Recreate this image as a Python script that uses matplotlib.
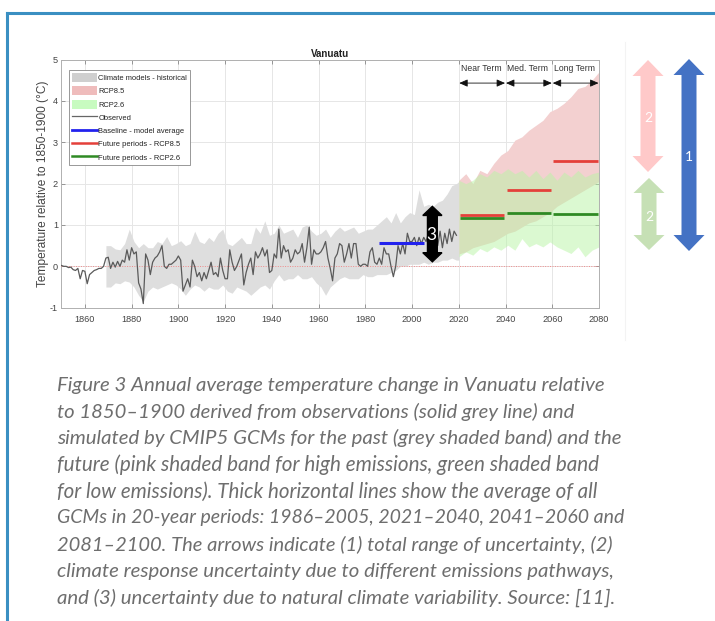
import numpy as np
import matplotlib
matplotlib.use("Agg")
import matplotlib.pyplot as plt
from matplotlib.patches import Polygon
from matplotlib.lines import Line2D
from matplotlib.patches import Patch

plt.rcParams["axes.unicode_minus"] = False

# ---------------- data ----------------
obs_years = list(range(1850, 2020))
obs_values = [
    0.02, 0.0, 0.0, -0.03, -0.02, -0.08, -0.1, -0.05, -0.3, -0.1,      # 1850
    -0.12, -0.42, -0.2, -0.15, -0.1, -0.08, -0.05, -0.05, 0.0, 0.2,    # 1860
    0.22, -0.05, 0.1, -0.02, 0.12, 0.0, 0.15, 0.1, 0.4, 0.15,          # 1870
    0.45, 0.3, 0.35, -0.4, -0.55, -0.9, 0.3, 0.15, -0.2, 0.1,          # 1880
    0.2, 0.25, 0.35, 0.5, 0.0, -0.05, 0.05, 0.05, 0.1, 0.15,           # 1890
    0.25, 0.15, -0.6, -0.45, -0.3, -0.5, 0.15, 0.0, -0.25, -0.15,      # 1900
    -0.35, -0.15, -0.3, -0.1, 0.1, -0.2, -0.15, -0.25, 0.2, -0.1,      # 1910
    -0.3, -0.3, 0.4, 0.1, -0.1, 0.0, 0.15, 0.3, -0.45, -0.15,          # 1920
    0.05, 0.2, -0.2, 0.35, 0.2, 0.3, 0.45, 0.25, 0.4, -0.15,           # 1930
    -0.1, 0.3, 0.2, 0.9, 0.2, 0.5, 0.35, 0.4, 0.1, 0.2,                # 1940
    0.4, 0.3, 0.35, 0.55, 0.1, 0.45, 0.95, 0.05, 0.4, 0.3,             # 1950
    0.3, 0.35, 0.45, 0.6, 0.2, -0.05, -0.35, 0.2, 0.3, 0.55,           # 1960
    0.5, 0.1, 0.3, 0.55, 0.2, 0.55, 0.55, 0.05, 0.0, 0.05,             # 1970
    0.05, 0.0, 0.35, 0.45, 0.1, 0.05, 0.2, 0.05, 0.45, 0.3,            # 1980
    0.3, 0.0, -0.25, 0.0, 0.5, 0.3, 0.55, 0.3, 0.8, 0.6,               # 1990
    0.6, 0.7, 0.5, 0.7, 0.55, 0.7, 0.6, 0.8, 0.65, 0.7,                # 2000
    0.75, 0.5, 0.85, 0.45, 0.8, 0.55, 0.9, 0.6, 0.85, 0.75,            # 2010
]

hist_years = list(range(1869, 2020, 2)) + [2020]
hist_upper = [
    0.5, 0.5, 0.42, 0.4, 0.55, 0.9, 0.6, 0.45, 0.55, 0.45,
    0.45, 0.6, 0.55, 0.72, 0.5, 0.55, 0.62, 0.5, 0.55, 0.85,
    0.6, 0.55, 0.7, 0.6, 0.8, 0.9, 0.55, 0.5, 0.6, 0.7,
    0.55, 0.55, 0.95, 0.8, 1.1, 0.75, 0.8, 1.0, 0.8, 0.85,
    0.9, 0.7, 0.95, 1.0, 0.85, 0.75, 0.8, 0.9, 0.7, 0.85,
    0.95, 0.85, 0.9, 0.95, 0.8, 0.85, 0.9, 0.9, 1.0, 1.1,
    1.2, 1.05, 1.3, 1.05, 1.2, 1.3, 1.25, 1.85, 1.45, 1.5,
    1.45, 1.55, 1.6, 1.75, 1.95, 2.0,
    2.05,
]
hist_lower = [
    -0.5, -0.5, -0.4, -0.42, -0.35, -0.38, -0.5, -0.7, -0.85, -0.6,
    -0.5, -0.55, -0.5, -0.45, -0.4, -0.45, -0.55, -0.7, -0.55, -0.45,
    -0.5, -0.6, -0.5, -0.55, -0.55, -0.45, -0.6, -0.65, -0.5, -0.55,
    -0.6, -0.7, -0.6, -0.5, -0.45, -0.55, -0.35, -0.2, -0.35, -0.3,
    -0.3, -0.2, -0.3, -0.3, -0.25, -0.4, -0.5, -0.7, -0.5, -0.4,
    -0.3, -0.25, -0.3, -0.3, -0.3, -0.2, -0.25, -0.25, -0.2, -0.2,
    -0.2, -0.15, -0.1, 0.0, 0.0, 0.05, 0.05, 0.05, 0.1, 0.05,
    0.1, 0.1, 0.15, 0.15, 0.2, 0.15,
    0.15,
]

fut_years = list(range(2020, 2081, 3))
rcp85_upper = [2.08, 2.24, 2.0, 2.32, 2.24, 2.49, 2.69, 2.8, 3.05, 3.13, 3.29,
               3.41, 3.53, 3.74, 3.82, 3.94, 4.1, 4.3, 4.35, 4.5, 4.7]
rcp85_lower = [0.3, 0.35, 0.45, 0.5, 0.55, 0.6, 0.7, 0.8, 0.85, 0.95, 1.05,
               1.1, 1.2, 1.3, 1.45, 1.55, 1.65, 1.75, 1.85, 1.95, 2.05]
rcp26_upper = [2.08, 2.0, 2.08, 2.24, 2.16, 2.32, 2.24, 2.36, 2.24, 2.32, 2.16,
               2.32, 2.12, 2.28, 2.08, 2.28, 2.16, 2.32, 2.16, 2.24, 2.28]
rcp26_lower = [0.23, 0.35, 0.27, 0.43, 0.35, 0.47, 0.39, 0.51, 0.39, 0.67, 0.47,
               0.55, 0.47, 0.59, 0.47, 0.39, 0.31, 0.47, 0.23, 0.39, 0.47]

baseline_period = (1986, 2005)
baseline_value = 0.57
period_starts = [2020.5, 2040.5, 2060.5]
period_ends = [2039.5, 2059.5, 2079.5]
rcp85_means = [1.25, 1.84, 2.54]
rcp26_means = [1.17, 1.29, 1.27]
term_labels = ["Near Term", "Med. Term", "Long Term"]

legend_labels = ["Climate models - historical", "RCP8.5", "RCP2.6", "Observed",
                 "Baseline - model average", "Future periods - RCP8.5",
                 "Future periods - RCP2.6"]

caption_lines = [
    "Figure 3 Annual average temperature change in Vanuatu relative",
    "to 1850\u20131900 derived from observations (solid grey line) and",
    "simulated by CMIP5 GCMs for the past (grey shaded band) and the",
    "future (pink shaded band for high emissions, green shaded band",
    "for low emissions). Thick horizontal lines show the average of all",
    "GCMs in 20-year periods: 1986\u20132005, 2021\u20132040, 2041\u20132060 and",
    "2081\u20132100. The arrows indicate (1) total range of uncertainty, (2)",
    "climate response uncertainty due to different emissions pathways,",
    "and (3) uncertainty due to natural climate variability. Source: [11].",
]
# right end (pixels) of each caption line in the reference layout
caption_right = [610, 576, 625, 603, 601, 625, 615, 618, 618]

# ---------------- figure ----------------
W, H = 715, 621
fig = plt.figure(figsize=(W / 100, H / 100), dpi=100)
NARROW = ["Liberation Sans Narrow", "Liberation Sans", "DejaVu Sans"]


def fx(px):
    return px / W


def fy(py):
    return 1 - py / H


ax_l, ax_r, ax_t, ax_b = 61.5, 599, 59.5, 307.7
ax = fig.add_axes([fx(ax_l), fy(ax_b), fx(ax_r - ax_l), (ax_b - ax_t) / H])

GREY_BAND = "#dedede"
PINK = "#f3d0d0"
GREEN = "#b8f5a5"

ax.fill_between(hist_years, hist_lower, hist_upper, color=GREY_BAND, lw=0, zorder=1)
ax.fill_between(fut_years, rcp85_lower, rcp85_upper, color=PINK, lw=0, zorder=1)
ax.fill_between(fut_years, rcp26_lower, rcp26_upper, color=GREEN, alpha=0.5, lw=0, zorder=2)

ax.axhline(0, color="#f08a8a", lw=0.7, ls=(0, (1, 1.5)), zorder=3)
ax.plot(obs_years, obs_values, color="#5a5a5a", lw=0.9, zorder=4)

ax.hlines(baseline_value, *baseline_period, color="#2222ee", lw=2.2, zorder=5)
ax.hlines(rcp85_means, period_starts, period_ends, color="#e4403a", lw=2.0, zorder=5)
ax.hlines(rcp26_means, period_starts, period_ends, color="#2f8a24", lw=2.0, zorder=5)

ax.set_xlim(1850, 2080)
ax.set_ylim(-1, 5)
ax.set_xticks(range(1860, 2081, 20))
ax.set_yticks(range(-1, 6))
ax.grid(True, color="#e6e6e6", lw=0.7, zorder=0)
ax.set_axisbelow(True)
ax.tick_params(direction="in", top=True, right=True, length=3, width=0.6,
               color="#888888", labelsize=6.6, labelcolor="#444444", pad=2.5)
for lab in ax.get_xticklabels() + ax.get_yticklabels():
    lab.set_family(NARROW)
ax.tick_params(axis="x", pad=5)
for sp in ax.spines.values():
    sp.set_color("#b0b0b0")
    sp.set_linewidth(0.7)

ax.set_title("Vanuatu", fontsize=7, fontweight="bold", family=NARROW, pad=2, color="#222222")
ax.set_ylabel("Temperature relative to 1850-1900 (\u00b0C)", fontsize=8.6,
              family=NARROW, color="#444444")
ax.yaxis.set_label_coords((49 - ax_l) / (ax_r - ax_l), 0.5)

# term labels and arrows
for s, e, lab in zip(period_starts, period_ends, term_labels):
    ax.text((s + e) / 2 - 0.5, 4.79, lab, ha="center", va="center", fontsize=6.2,
            family=NARROW, color="#333333", zorder=6)
    ax.annotate("", xy=(s - 0.3, 4.43), xytext=(e + 0.3, 4.43),
                arrowprops=dict(arrowstyle="<|-|>,head_length=0.5,head_width=0.22",
                                color="#111111", lw=0.6, shrinkA=0, shrinkB=0), zorder=6)

# natural variability arrow (3)
cx, yb, yt = 2008.7, 0.11, 1.45
hl, sw, hw = 0.22, 2.1, 4.1
pts3 = [(cx, yt), (cx + hw, yt - hl), (cx + sw, yt - hl), (cx + sw, yb + hl),
        (cx + hw, yb + hl), (cx, yb), (cx - hw, yb + hl), (cx - sw, yb + hl),
        (cx - sw, yt - hl), (cx - hw, yt - hl)]
ax.add_patch(Polygon(pts3, closed=True, color="black", zorder=7))
ax.text(cx - 0.3, 0.76, "3", color="white", fontsize=12.5, family="Lato",
        ha="center", va="center", zorder=8)

# legend
handles = [
    Patch(facecolor="#cfcfcf", edgecolor="none"),
    Patch(facecolor="#efbcbc", edgecolor="none"),
    Patch(facecolor="#c8fbc0", edgecolor="none"),
    Line2D([], [], color="#666666", lw=0.9),
    Line2D([], [], color="#2222ee", lw=2.0),
    Line2D([], [], color="#e4403a", lw=1.8),
    Line2D([], [], color="#2f8a24", lw=1.8),
]
leg = ax.legend(handles, legend_labels, loc="upper left",
                bbox_to_anchor=((69 - ax_l) / (ax_r - ax_l), (ax_b - 70) / (ax_b - ax_t)),
                prop={"family": NARROW, "size": 5.4}, frameon=True, fancybox=False,
                edgecolor="#888888", framealpha=1, borderpad=0.4, labelspacing=0.55,
                handlelength=3.3, handleheight=1.5, handletextpad=0.2, borderaxespad=0)
leg.get_frame().set_linewidth(0.6)
for t in leg.get_texts():
    t.set_color("#222222")


# right-hand uncertainty arrows (figure pixel coordinates)
def big_arrow(cx, top, bot, shaft, head, hlen, color, label, ly):
    p = [(cx, top), (cx + head / 2, top + hlen), (cx + shaft / 2, top + hlen),
         (cx + shaft / 2, bot - hlen), (cx + head / 2, bot - hlen), (cx, bot),
         (cx - head / 2, bot - hlen), (cx - shaft / 2, bot - hlen),
         (cx - shaft / 2, top + hlen), (cx - head / 2, top + hlen)]
    fig.add_artist(Polygon([(fx(x), fy(y)) for x, y in p], closed=True,
                           transform=fig.transFigure, color=color, lw=0))
    fig.text(fx(cx), fy(ly), label, color="white", fontsize=10, family="Lato",
             ha="center", va="center")


big_arrow(648, 60, 172, 15, 31, 16, "#ffc9c9", "2", 118)
big_arrow(649, 178, 250, 15, 31, 15, "#c6e0b5", "2", 217)
big_arrow(689, 59, 251, 15, 31, 16, "#4472c4", "1", 157)

# faint separator line
fig.add_artist(Line2D([fx(625), fx(625)], [fy(42), fy(340)], transform=fig.transFigure,
                      color="#f3f3f3", lw=0.8))

# outer blue frame
fig.add_artist(Line2D([fx(7), fx(715)], [fy(13), fy(13)], transform=fig.transFigure,
                      color="#3a8fc2", lw=2.2))
fig.add_artist(Line2D([fx(7), fx(7)], [fy(13), fy(621)], transform=fig.transFigure,
                      color="#3a8fc2", lw=2.2))

# caption: fit each line to its width in the reference
renderer = fig.canvas.get_renderer()
cap_x = 57
for i, line in enumerate(caption_lines):
    t = fig.text(fx(cap_x), fy(385 + i * 26.6), line, fontsize=14, family="Lato",
                 style="italic", color="#6e6e6e", ha="left", va="center")
    wpx = t.get_window_extent(renderer).width
    t.set_fontsize(14 * (caption_right[i] - cap_x) / wpx)

fig.savefig("out.png", dpi=100)
